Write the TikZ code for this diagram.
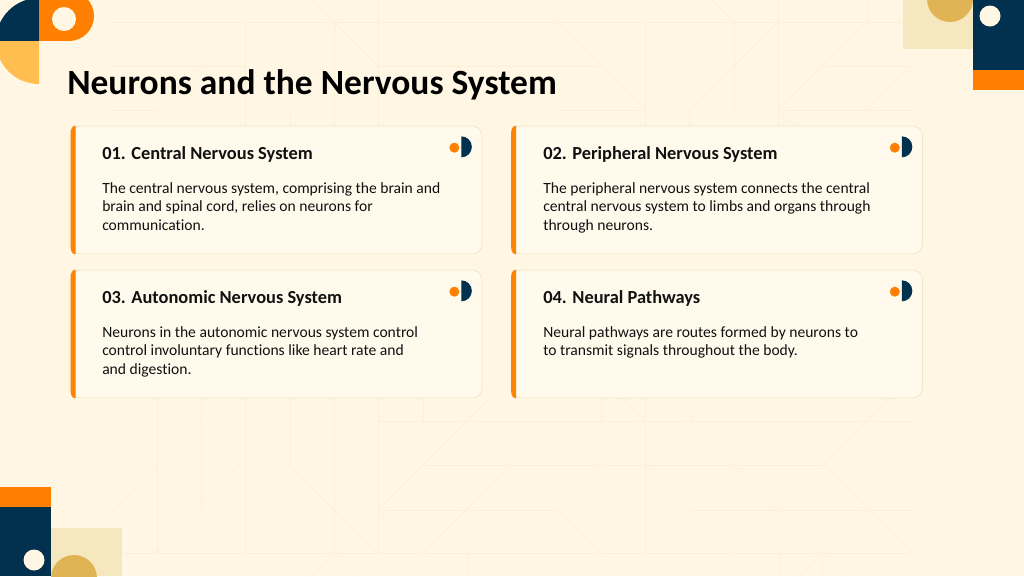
\documentclass[tikz,border=0pt]{standalone}
\usepackage{fontspec}
\setmainfont[Ligatures=NoCommon]{Carlito}
\usepackage{xcolor}
\usetikzlibrary{calc}
\definecolor{paper}{HTML}{FFF6E3}
\definecolor{cardfill}{HTML}{FFFAEC}
\definecolor{cardline}{HTML}{EDE5CE}
\definecolor{navy}{HTML}{02304F}
\definecolor{accent}{HTML}{FF8000}
\definecolor{amber}{HTML}{FFBE4F}
\definecolor{gold}{HTML}{E0B455}
\definecolor{sand}{HTML}{F5E8BE}
\definecolor{bgstroke}{HTML}{FAF0D8}
\definecolor{bgfaint}{HTML}{FCF3DD}
\definecolor{inktext}{HTML}{111111}
\tikzset{
    pagetitle/.style={anchor=base west, font=\bfseries\fontsize{26.6}{30}\selectfont, text=black, inner sep=0pt},
    card/.style={draw=cardline, fill=cardfill, line width=0.5pt, rounded corners=7.5pt, inner sep=0pt,
        minimum width=308.25pt, minimum height=96pt},
    cardhead/.style={anchor=base west, font=\bfseries\fontsize{13.8}{16}\selectfont, text=inktext, inner sep=0pt},
    cardbody/.style={anchor=base west, font=\fontsize{11.7}{13.7}\selectfont, text=inktext, inner sep=0pt, align=left},
    bgline/.style={bgstroke, line width=0.6pt},
    bgdiag/.style={bgfaint, line width=0.6pt},
}

\begin{document}
\begin{tikzpicture}[x=0.75pt, y=-0.75pt]
    \useasboundingbox (0,0) rectangle (1024,576);
    \clip (0,0) rectangle (1024,576);
    \fill[paper] (0,0) rectangle (1024,576);

    % Background grid
    \draw[bgline] (112,22) -- (902,22);
    \draw[bgline] (112,66) -- (245,66);
    \draw[bgline] (378,66) -- (601,66);
    \draw[bgline] (823,66) -- (911,66);
    \draw[bgline] (112,110) -- (157,110);
    \draw[bgline] (557,110) -- (645,110);
    \draw[bgline] (778,110) -- (912,110);
    \draw[bgline] (245,22) -- (245,126);
    \draw[bgline] (290,110) -- (290,126);
    \draw[bgline] (334,22) -- (334,126);
    \draw[bgline] (378,0) -- (378,126);
    \draw[bgline] (645,22) -- (645,126);
    \draw[bgline] (689,110) -- (689,126);
    \draw[bgline] (734,22) -- (734,110);
    \draw[bgline] (778,0) -- (778,126);
    \draw[bgline] (867,0) -- (867,22);
    \draw[bgline] (157,398) -- (157,553);
    \draw[bgline] (201,398) -- (201,510);
    \draw[bgline] (245,398) -- (245,553);
    \draw[bgline] (290,398) -- (290,466);
    \draw[bgline] (334,398) -- (334,553);
    \draw[bgline] (378,398) -- (378,553);
    \draw[bgline] (423,398) -- (423,421);
    \draw[bgline] (601,398) -- (601,421);
    \draw[bgline] (645,398) -- (645,553);
    \draw[bgline] (467,553) -- (467,576);
    \draw[bgline] (779,553) -- (779,576);
    \draw[bgline] (822,553) -- (822,576);
    \draw[bgline] (378,421) -- (912,421);
    \draw[bgline] (423,465) -- (824,465);
    \draw[bgline] (378,510) -- (557,510);
    \draw[bgline] (690,510) -- (912,510);
    \draw[bgline] (123,553) -- (912,553);
    \draw[bgdiag] (334,22) -- (245,110);
    \draw[bgdiag] (237,32) -- (160,110);
    \draw[bgdiag] (334,22) -- (378,66);
    \draw[bgdiag] (311,0) -- (334,22);
    \draw[bgdiag] (334,22) -- (356,0);
    \draw[bgdiag] (778,22) -- (689,110);
    \draw[bgdiag] (555,20) -- (645,110);
    \draw[bgdiag] (911,66) -- (867,110);
    \draw[bgdiag] (867,22) -- (778,110);
    \draw[bgdiag] (778,110) -- (795,126);
    \draw[bgdiag] (734,22) -- (712,0);
    \draw[bgdiag] (290,466) -- (245,510);
    \draw[bgdiag] (290,466) -- (378,553);
    \draw[bgdiag] (201,420) -- (113,510);
    \draw[bgdiag] (113,510) -- (157,553);
    \draw[bgdiag] (157,553) -- (240,465);
    \draw[bgdiag] (378,510) -- (490,398);
    \draw[bgdiag] (378,510) -- (423,553);
    \draw[bgdiag] (423,553) -- (512,465);
    \draw[bgdiag] (557,510) -- (645,421);
    \draw[bgdiag] (557,510) -- (600,553);
    \draw[bgdiag] (623,398) -- (645,421);
    \draw[bgdiag] (645,465) -- (710,400);
    \draw[bgdiag] (645,465) -- (733,553);
    \draw[bgdiag] (689,421) -- (779,510);
    \draw[bgdiag] (824,465) -- (889,398);
    \draw[bgdiag] (824,465) -- (912,553);
    \draw[bgdiag] (334,553) -- (311,576);
    \draw[bgdiag] (334,553) -- (357,576);
    \draw[bgdiag] (822,553) -- (799,576);
    \draw[bgdiag] (822,553) -- (845,576);

    % Top left corner
    \fill[navy] (39,41) -- (-4,41) arc[start angle=180, end angle=270, radius=43] -- cycle;
    \fill[amber] (39,41) -- (39,84) arc[start angle=90, end angle=180, radius=43] -- cycle;
    \fill[accent] (39,-5) rectangle (69,41);
    \fill[accent] (69,16) circle (25);
    \fill[paper] (64,19) circle (12);

    % Top right corner
    \fill[sand] (903,0) rectangle (973,49);
    \fill[gold] (950,-1) circle (23);
    \fill[navy] (973,0) rectangle (1024,70);
    \fill[accent] (973,70) rectangle (1024,90);
    \fill[paper] (990,16) circle (10.5);

    % Bottom left corner
    \fill[accent] (0,487) rectangle (51,507);
    \fill[navy] (0,507) rectangle (51,576);
    \fill[sand] (51,528) rectangle (122,576);
    \fill[gold] (74,578) circle (23);
    \fill[paper] (34,560) circle (10.5);

    % Title
    \node[pagetitle] (title) at (67,94) {Neurons and the Nervous System};

    % Cards
    \node[card] (card1) at (276.5,190) {};
    \node[card] (card2) at (717,190) {};
    \node[card] (card3) at (276.5,334) {};
    \node[card] (card4) at (717,334) {};

    % Stripes and icons
    \foreach \n in {1,...,4} {
        \fill[accent!95!gold] ([xshift=3.75pt]card\n.north west) -- ([xshift=3.75pt]card\n.south west)
            to[out=180, in=-90] ([yshift=5pt]card\n.south west) -- ([yshift=-5pt]card\n.north west)
            to[out=90, in=180] cycle;
        \fill[accent] ([shift={(-21pt,-16.5pt)}]card\n.north east) circle (5);
        \fill[navy] ([shift={(-15.75pt,-8pt)}]card\n.north east) arc[start angle=-90, end angle=90, radius=10.5] -- cycle;
    }

    % Card 1
    \node[cardhead] (head1) at (102,159) {01. Central Nervous System};
    \node[cardbody] (body1) at (102,230) {The central nervous system, comprising the brain and\\brain and spinal cord, relies on neurons for\\communication.};

    % Card 2
    \node[cardhead] (head2) at (543,159) {02. Peripheral Nervous System};
    \node[cardbody] (body2) at (543,230) {The peripheral nervous system connects the central\\central nervous system to limbs and organs through\\through neurons.};

    % Card 3
    \node[cardhead] (head3) at (102,303) {03. Autonomic Nervous System};
    \node[cardbody] (body3) at (102,374) {Neurons in the autonomic nervous system control\\control involuntary functions like heart rate and\\and digestion.};

    % Card 4
    \node[cardhead] (head4) at (543,303) {04. Neural Pathways};
    \node[cardbody] (body4) at (543,355.5) {Neural pathways are routes formed by neurons to\\to transmit signals throughout the body.};
\end{tikzpicture}
\end{document}
